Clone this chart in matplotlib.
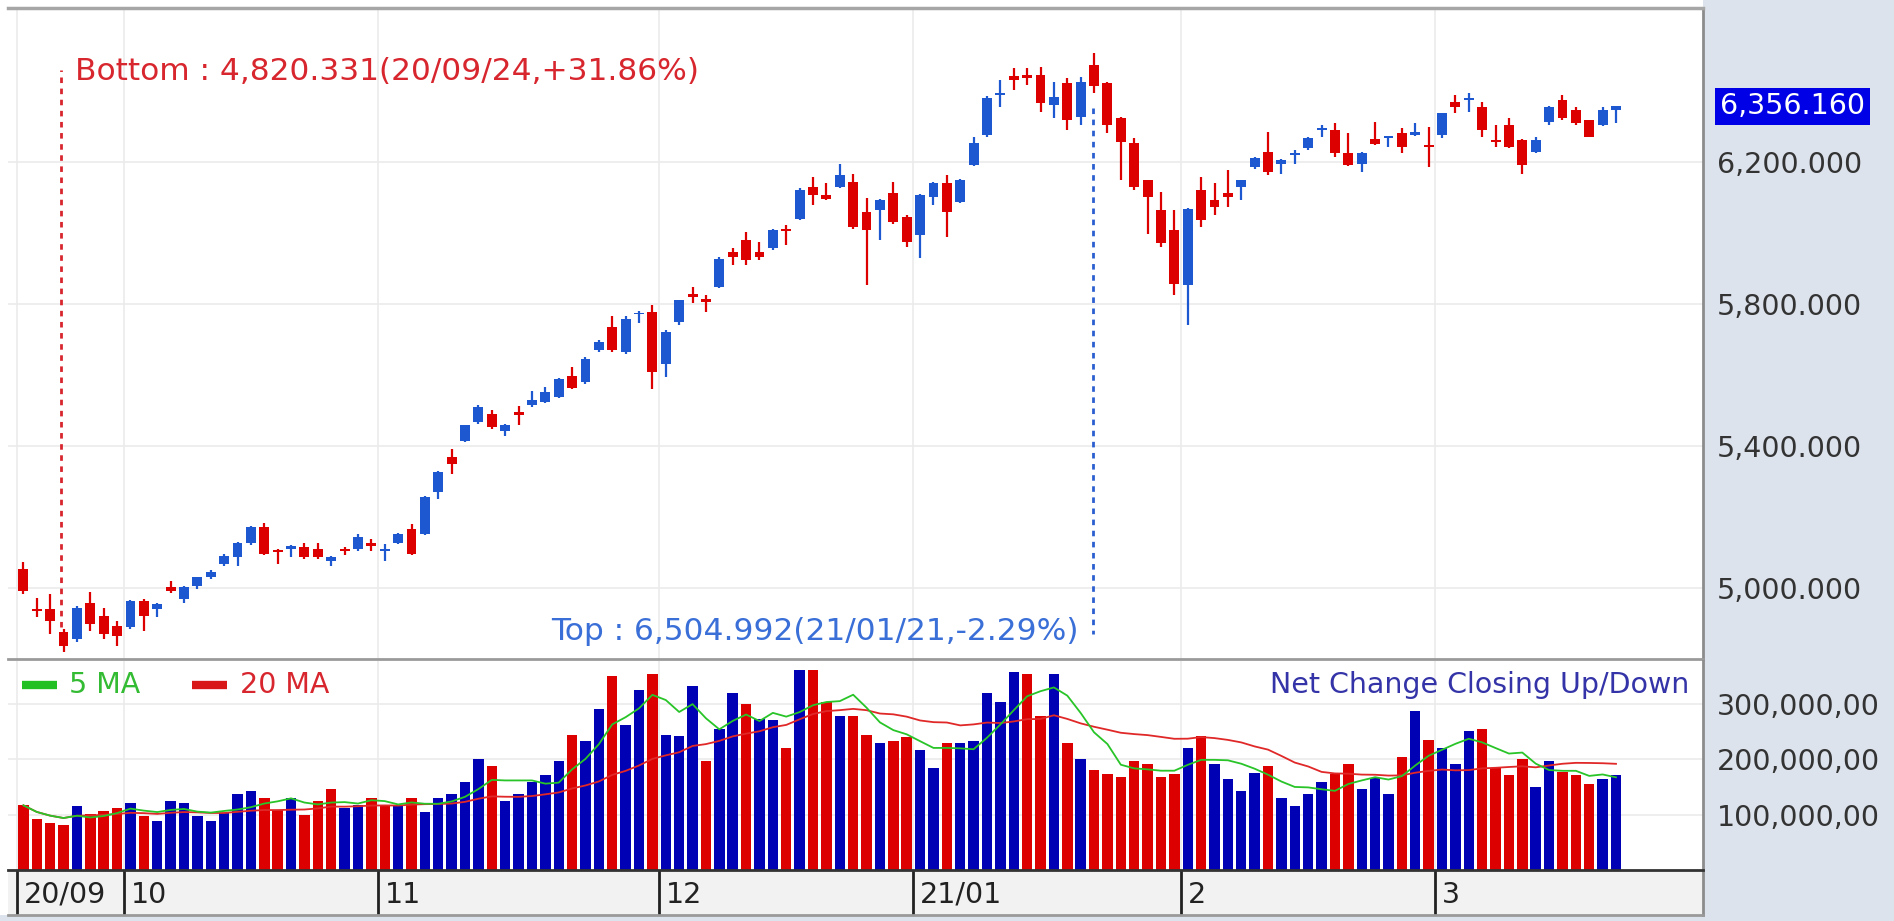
import numpy as np
import pandas as pd
import matplotlib
matplotlib.use("Agg")
import matplotlib.pyplot as plt
import matplotlib.transforms as mtransforms
from matplotlib.patches import Rectangle

# Daily candles (20/09 .. 21/03)
opens = [5053, 4940, 4941, 4875, 4856, 4959, 4922, 4893, 4889, 4964,
         4940, 5002, 4969, 5006, 5030, 5067, 5088, 5126, 5171, 5107,
         5110, 5114, 5110, 5077, 5110, 5110, 5128, 5105, 5128, 5166,
         5152, 5270, 5368, 5415, 5467, 5490, 5442, 5495, 5514, 5523,
         5537, 5598, 5580, 5669, 5735, 5664, 5770, 5777, 5631, 5749,
         5829, 5815, 5848, 5946, 5979, 5946, 5956, 6012, 6040, 6130,
         6106, 6130, 6144, 6059, 6064, 6111, 6045, 5993, 6101, 6139,
         6087, 6191, 6275, 6388, 6442, 6444, 6444, 6360, 6421, 6327,
         6473, 6421, 6322, 6252, 6148, 6064, 6007, 5852, 6120, 6092,
         6113, 6130, 6186, 6228, 6195, 6219, 6238, 6289, 6289, 6224,
         6195, 6263, 6266, 6280, 6275, 6247, 6275, 6369, 6374, 6355,
         6261, 6303, 6261, 6228, 6313, 6374, 6346, 6318, 6303, 6346]
highs = [5072, 4973, 4983, 4884, 4950, 4988, 4945, 4908, 4966, 4969,
         4958, 5020, 5006, 5032, 5050, 5095, 5130, 5175, 5182, 5110,
         5121, 5128, 5128, 5091, 5114, 5152, 5138, 5124, 5155, 5180,
         5260, 5330, 5392, 5460, 5514, 5500, 5462, 5511, 5556, 5566,
         5592, 5622, 5650, 5697, 5765, 5765, 5780, 5796, 5725, 5812,
         5848, 5824, 5932, 5956, 6003, 5975, 6010, 6022, 6125, 6158,
         6139, 6195, 6167, 6097, 6095, 6144, 6050, 6110, 6142, 6163,
         6152, 6271, 6384, 6430, 6463, 6463, 6468, 6426, 6435, 6440,
         6504.992, 6425, 6325, 6266, 6150, 6116, 6064, 6070, 6158, 6139,
         6177, 6150, 6213, 6285, 6207, 6233, 6270, 6303, 6308, 6280,
         6228, 6313, 6274, 6294, 6310, 6299, 6338, 6388, 6393, 6369,
         6303, 6322, 6263, 6271, 6357, 6388, 6355, 6318, 6355, 6358]
lows = [4983, 4917, 4870, 4820.331, 4847, 4880, 4856, 4837, 4884, 4880,
        4917, 4987, 4959, 4997, 5025, 5063, 5063, 5120, 5094, 5067,
        5088, 5082, 5082, 5063, 5094, 5105, 5105, 5077, 5124, 5094,
        5150, 5251, 5321, 5410, 5462, 5448, 5429, 5460, 5510, 5520,
        5535, 5560, 5575, 5665, 5665, 5660, 5745, 5561, 5594, 5740,
        5801, 5777, 5845, 5909, 5909, 5923, 5953, 5965, 6035, 6078,
        6092, 6125, 6010, 5852, 5979, 6025, 5960, 5928, 6078, 5989,
        6083, 6188, 6270, 6355, 6402, 6416, 6341, 6322, 6289, 6303,
        6395, 6280, 6148, 6120, 5998, 5960, 5824, 5740, 6017, 6050,
        6073, 6092, 6180, 6163, 6167, 6195, 6234, 6271, 6214, 6188,
        6172, 6247, 6242, 6224, 6272, 6186, 6266, 6336, 6341, 6271,
        6242, 6238, 6167, 6224, 6303, 6318, 6303, 6270, 6300, 6308]
closes = [4992, 4936, 4908, 4837, 4945, 4898, 4870, 4865, 4964, 4922,
          4955, 4992, 5002, 5030, 5044, 5091, 5128, 5173, 5096, 5100,
          5119, 5086, 5086, 5086, 5105, 5143, 5119, 5110, 5152, 5096,
          5255, 5326, 5349, 5458, 5509, 5453, 5458, 5488, 5528, 5551,
          5589, 5564, 5645, 5692, 5669, 5758, 5775, 5608, 5721, 5810,
          5819, 5805, 5927, 5932, 5923, 5932, 6007, 6005, 6120, 6106,
          6095, 6162, 6017, 6007, 6092, 6031, 5975, 6106, 6139, 6059,
          6148, 6252, 6379, 6393, 6430, 6435, 6365, 6383, 6318, 6426,
          6412, 6304, 6257, 6130, 6101, 5970, 5857, 6068, 6036, 6073,
          6101, 6148, 6210, 6172, 6205, 6224, 6266, 6294, 6224, 6191,
          6226, 6250, 6272, 6242, 6285, 6242, 6336, 6355, 6379, 6289,
          6257, 6242, 6191, 6261, 6355, 6322, 6308, 6271, 6346, 6356.16]

# volume in hundred-millions, and net change closing up (1) / down (0)
volumes = [1.17, 0.93, 0.85, 0.81, 1.15, 1.01, 1.06, 1.12, 1.21, 0.97,
           0.88, 1.25, 1.21, 0.97, 0.88, 1.03, 1.38, 1.42, 1.30, 1.08,
           1.30, 1.00, 1.25, 1.47, 1.12, 1.17, 1.30, 1.17, 1.17, 1.30,
           1.05, 1.30, 1.38, 1.59, 2.00, 1.88, 1.25, 1.38, 1.59, 1.71,
           1.97, 2.45, 2.33, 2.92, 3.50, 2.62, 3.25, 3.55, 2.45, 2.42,
           3.33, 1.97, 2.55, 3.21, 3.00, 2.74, 2.71, 2.21, 3.62, 3.62,
           3.03, 2.79, 2.79, 2.45, 2.29, 2.33, 2.41, 2.17, 1.84, 2.29,
           2.29, 2.33, 3.21, 3.04, 3.58, 3.55, 2.79, 3.55, 2.30, 2.01,
           1.80, 1.73, 1.68, 1.97, 1.92, 1.68, 1.73, 2.21, 2.42, 1.92,
           1.64, 1.42, 1.76, 1.88, 1.30, 1.15, 1.38, 1.59, 1.74, 1.92,
           1.47, 1.67, 1.38, 2.05, 2.88, 2.35, 2.21, 1.92, 2.51, 2.55,
           1.84, 1.71, 2.01, 1.51, 1.97, 1.77, 1.71, 1.55, 1.64, 1.71]
vol_up = [0, 0, 0, 0, 1, 0, 0, 0, 1, 0,
          1, 1, 1, 1, 1, 1, 1, 1, 0, 0,
          1, 0, 0, 0, 1, 1, 0, 0, 1, 0,
          1, 1, 1, 1, 1, 0, 1, 1, 1, 1,
          1, 0, 1, 1, 0, 1, 1, 0, 1, 1,
          1, 0, 1, 1, 0, 1, 1, 0, 1, 0,
          0, 1, 0, 0, 1, 0, 0, 1, 1, 0,
          1, 1, 1, 1, 1, 0, 0, 1, 0, 1,
          0, 0, 0, 0, 0, 0, 0, 1, 0, 1,
          1, 1, 1, 0, 1, 1, 1, 1, 0, 0,
          1, 1, 1, 0, 1, 0, 1, 1, 1, 0,
          0, 0, 0, 1, 1, 0, 0, 0, 1, 1]

month_labels = ["20/09", "10", "11", "12", "21/01", "2", "3"]
month_starts = [0, 8, 27, 48, 67, 87, 106]

price_ticks = [5000, 5400, 5800, 6200]
vol_ticks = [1e8, 2e8, 3e8]
vol_tick_labels = ["100,000,00", "200,000,00", "300,000,00"]

bottom_idx, bottom_date = 3, "20/09/24"
top_idx, top_date = 80, "21/01/21"

# colours
RED = "#dc0000"
CBLUE = "#1d58d0"
VBLUE = "#0000b4"
PANEL = "#dde3ec"
FS = 20.5      # axis / legend text
FS_NOTE = 22.5  # bottom / top notes

o = np.array(opens, float)
h = np.array(highs, float)
l = np.array(lows, float)
c = np.array(closes, float)
v = np.array(volumes) * 1e8
x = np.arange(len(c))

W, H = 1894, 921
def box(x0, y0, x1, y1):
    return [x0 / W, 1 - y1 / H, (x1 - x0) / W, (y1 - y0) / H]

fig = plt.figure(figsize=(W / 100, H / 100), dpi=100)
fig.patch.set_facecolor(PANEL)
# white strip along the left / top edge of the chart area
fig.patches.append(Rectangle((0, 1 - 915 / H), 1703 / W, 915 / H,
                             transform=fig.transFigure, fc="white", ec="none", zorder=-10))

ax_p = fig.add_axes(box(8, 8, 1703, 659))
ax_v = fig.add_axes(box(8, 661, 1703, 870), sharex=ax_p)
ax_x = fig.add_axes(box(8, 870, 1703, 915), sharex=ax_p)

dividers = [s - 0.5 for s in month_starts]

# ---- price panel ----
up = c >= o
ccol = np.where(up, CBLUE, RED)
ax_p.vlines(x, l, h, colors=ccol, lw=1.6, zorder=3)
body = np.abs(c - o)
mid = (c + o) / 2
bh = np.maximum(body, 5)
ax_p.bar(x, bh, bottom=mid - bh / 2, width=0.74, color=ccol, lw=0, zorder=4)

ax_p.set_xlim(-1.15, 125.5)
ax_p.set_ylim(4800, 6633)
ax_p.set_yticks(price_ticks)
ax_p.set_yticklabels([f"{t:,.3f}" for t in price_ticks])
ax_p.set_xticks(dividers)
ax_p.grid(True, color="#ebebeb", lw=1.2, zorder=0)
ax_p.yaxis.tick_right()
ax_p.tick_params(axis="y", length=0, pad=10, labelsize=FS, labelcolor="#333333")
ax_p.tick_params(axis="x", length=0, labelbottom=False)

last = c[-1]
pct_b = (last / l[bottom_idx] - 1) * 100
pct_t = (last / h[top_idx] - 1) * 100

ax_p.plot([bottom_idx - 0.2, bottom_idx - 0.2], [h[bottom_idx] + 5, 6458],
          color="#d8262e", lw=2, ls=(0, (2, 2)), zorder=5)
ax_p.annotate(f"Bottom : {l[bottom_idx]:,.3f}({bottom_date},{pct_b:+.2f}%)",
              xy=(bottom_idx - 0.2, 6453), xytext=(10, 0), textcoords="offset points",
              ha="left", va="center", color="#d8262e", fontsize=FS_NOTE)

ax_p.plot([top_idx - 0.1, top_idx - 0.1], [6352, 4871],
          color="#2b5fd0", lw=2, ls=(0, (2, 2)), zorder=5)
ax_p.annotate(f"Top : {h[top_idx]:,.3f}({top_date},{pct_t:+.2f}%)",
              xy=(top_idx - 0.1, 4877), xytext=(-10, 0), textcoords="offset points",
              ha="right", va="center", color="#3a6fd8", fontsize=FS_NOTE)

trans = mtransforms.blended_transform_factory(ax_p.transAxes, ax_p.transData)
ax_p.text(1 + 17 / 1695, last, f"{last:,.3f}", transform=trans, ha="left", va="center",
          color="white", fontsize=FS,
          bbox=dict(boxstyle="square,pad=0.16", fc="#0000e6", ec="none"))

ax_p.spines["left"].set_visible(False)
ax_p.spines["top"].set_color("#a6a6a6")
ax_p.spines["top"].set_linewidth(2.5)
ax_p.spines["right"].set_color("#8c8c8c")
ax_p.spines["right"].set_linewidth(2)
ax_p.spines["bottom"].set_color("#9a9a9a")
ax_p.spines["bottom"].set_linewidth(2)

# ---- volume panel ----
vcol = np.where(np.array(vol_up) == 1, VBLUE, RED)
ax_v.bar(x, v, width=0.78, color=vcol, lw=0, zorder=3)
s = pd.Series(v)
ax_v.plot(x, s.rolling(20, min_periods=1).mean(), color="#e02828", lw=1.3, zorder=4)
ax_v.plot(x, s.rolling(5, min_periods=1).mean(), color="#28c428", lw=1.3, zorder=5)
ax_v.set_ylim(0, 3.78e8)
ax_v.set_yticks(vol_ticks)
ax_v.set_yticklabels(vol_tick_labels)
ax_v.grid(True, color="#ebebeb", lw=1.2, zorder=0)
ax_v.yaxis.tick_right()
ax_v.tick_params(axis="y", length=0, pad=10, labelsize=FS, labelcolor="#333333")
ax_v.tick_params(axis="x", length=0, labelbottom=False)
ax_v.spines["left"].set_visible(False)
ax_v.spines["top"].set_visible(False)
ax_v.spines["bottom"].set_visible(False)
ax_v.spines["right"].set_color("#8c8c8c")
ax_v.spines["right"].set_linewidth(2)

ax_v.plot([0.0082, 0.0288], [0.885, 0.885], transform=ax_v.transAxes,
          color="#22c022", lw=6, solid_capstyle="butt")
ax_v.text(0.036, 0.885, "5 MA", transform=ax_v.transAxes, color="#33bb33",
          fontsize=FS, va="center", ha="left")
ax_v.plot([0.1084, 0.1290], [0.885, 0.885], transform=ax_v.transAxes,
          color="#d81818", lw=6, solid_capstyle="butt")
ax_v.text(0.1370, 0.885, "20 MA", transform=ax_v.transAxes, color="#d8262e",
          fontsize=FS, va="center", ha="left")
ax_v.text(0.9917, 0.885, "Net Change Closing Up/Down", transform=ax_v.transAxes,
          color="#3434a8", fontsize=FS, va="center", ha="right")

# ---- month band ----
ax_x.set_facecolor("#f2f2f2")
ax_x.set_ylim(0, 1)
ax_x.set_yticks([])
ax_x.tick_params(axis="x", length=0, labelbottom=False)
for d, lab in zip(dividers, month_labels):
    ax_x.axvline(d, color="#222222", lw=2)
    ax_x.annotate(lab, xy=(d, 0.45), xytext=(5, 0), textcoords="offset points",
                  ha="left", va="center", color="#222222", fontsize=FS)
ax_x.spines["top"].set_color("#333333")
ax_x.spines["top"].set_linewidth(2)
ax_x.spines["bottom"].set_color("#9a9a9a")
ax_x.spines["bottom"].set_linewidth(2)
ax_x.spines["left"].set_visible(False)
ax_x.spines["right"].set_color("#8c8c8c")
ax_x.spines["right"].set_linewidth(2)

fig.savefig("out.png", dpi=100, facecolor=fig.get_facecolor())
